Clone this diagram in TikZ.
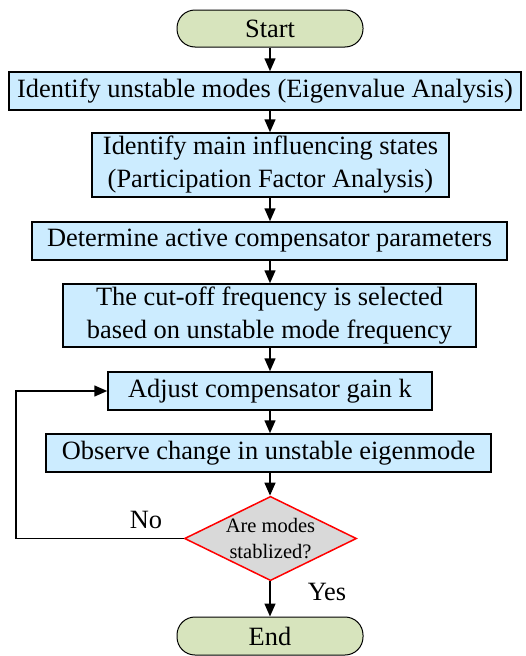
\documentclass[tikz,border=0pt]{standalone}
\usepackage{fontspec}
\setmainfont{Liberation Serif}
\usetikzlibrary{arrows.meta,shapes.geometric}
\definecolor{boxblue}{RGB}{204,236,255}
\definecolor{termgreen}{RGB}{215,228,189}
\definecolor{diagray}{RGB}{217,217,217}
\begin{document}
\begin{tikzpicture}[x=1pt,y=-1pt,
  every node/.style={font=\fontsize{26.4}{33}\selectfont, inner sep=0pt, align=center},
  procbox/.style={draw=black, line width=1.5pt, fill=boxblue, rectangle},
  termbox/.style={draw=black, line width=1pt, fill=termgreen, rounded corners=18pt},
  decbox/.style={draw=red, line width=1.5pt, fill=diagray, diamond, aspect=2.04,
    font=\fontsize{20.5}{26}\selectfont},
  arr/.style={draw=black, line width=1.5pt, -{Triangle[length=13pt,width=11pt]}},
  lbl/.style={font=\fontsize{26.4}{30}\selectfont}
]
\useasboundingbox (0,0) rectangle (525,656);
\node[termbox, minimum width=186pt, minimum height=37pt] (start) at (270,28.5) {Start};
\node[procbox, minimum width=512pt, minimum height=38pt] (b1) at (265,91) {Identify unstable modes (Eigenvalue Analysis)};
\node[procbox, minimum width=357pt, minimum height=64pt] (b2) at (270.5,165) {Identify main influencing states\\(Participation Factor Analysis)};
\node[procbox, minimum width=475pt, minimum height=38pt] (b3) at (269.5,241) {Determine active compensator parameters};
\node[procbox, minimum width=413pt, minimum height=63pt] (b4) at (269.5,315.5) {The cut-off frequency is selected\\based on unstable mode frequency};
\node[procbox, minimum width=324pt, minimum height=38pt] (b5) at (270,391) {Adjust compensator gain k};
\node[procbox, minimum width=445pt, minimum height=38pt] (b6) at (268.5,453) {Observe change in unstable eigenmode};
\node[decbox, minimum width=169pt, minimum height=83pt, inner sep=0pt] (dia) at (270.5,538.5) {Are modes\\stablized?};
\node[termbox, minimum width=186pt, minimum height=38pt] (end) at (270,636) {End};
\coordinate (loopc) at (16,538.5);
\node[lbl] (no) at (146,520) {No};
\node[lbl] (yes) at (327,592) {Yes};

\draw[arr] (start) -- (start |- b1.north);
\draw[arr] (b1.south -| start) -- (start |- b2.north);
\draw[arr] (b2.south -| start) -- (start |- b3.north);
\draw[arr] (b3.south -| start) -- (start |- b4.north);
\draw[arr] (b4.south -| start) -- (start |- b5.north);
\draw[arr] (b5.south -| start) -- (start |- b6.north);
\draw[arr] (b6.south -| start) -- (start |- dia.north);
\draw[arr] (dia.south -| start) -- (start |- end.north);
\draw[arr] (dia.west) -- (loopc) |- (b5.west);
\end{tikzpicture}
\end{document}
